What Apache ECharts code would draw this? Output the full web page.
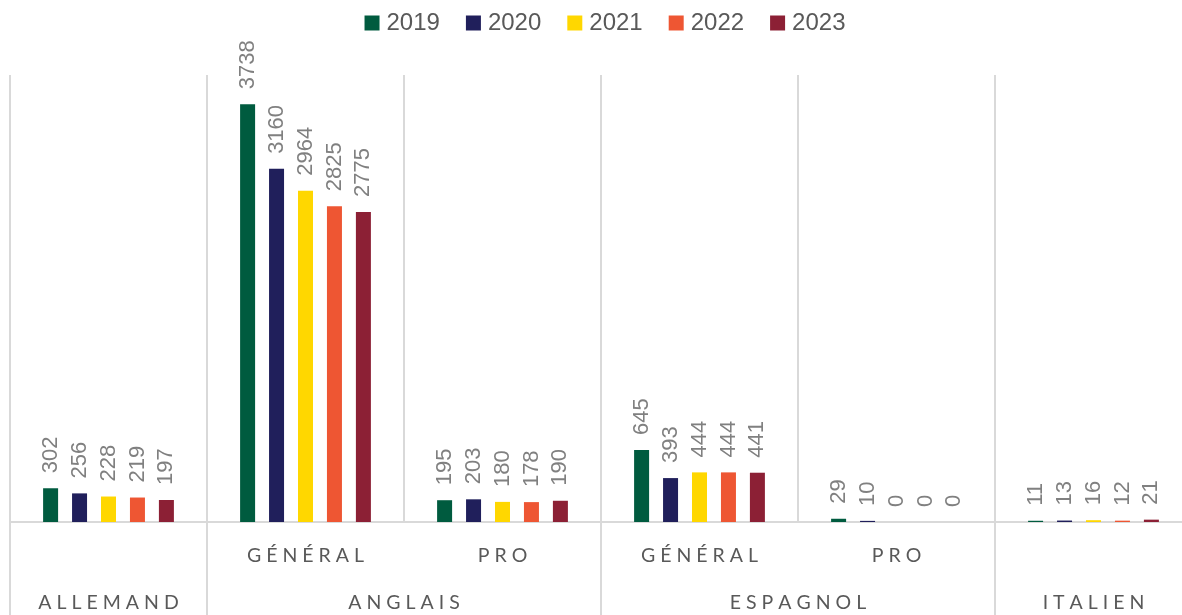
<!DOCTYPE html>
<html>
<head>
<meta charset="utf-8">
<script src="https://cdn.jsdelivr.net/npm/echarts@6/dist/echarts.min.js"></script>
<style>
html,body{margin:0;padding:0;background:#fff;overflow:hidden;}
#chart{width:1210px;height:615px;}
</style>
</head>
<body>
<div id="chart"></div>
<script>
// Data
const subCategories = ['', 'GÉNÉRAL', 'PRO', 'GÉNÉRAL', 'PRO', ''];
const groupLabels = ['', 'ALLEMAND', '', '', 'ANGLAIS', '', '', '', 'ESPAGNOL', '', '', 'ITALIEN', ''];
const groupBoundaries = [0, 2, 6, 10, 12];
const years = ['2019', '2020', '2021', '2022', '2023'];
const v2019 = [302, 3738, 195, 645, 29, 11];
const v2020 = [256, 3160, 203, 393, 10, 13];
const v2021 = [228, 2964, 180, 444, 0, 16];
const v2022 = [219, 2825, 178, 444, 0, 12];
const v2023 = [197, 2775, 190, 441, 0, 21];
const seriesValues = [v2019, v2020, v2021, v2022, v2023];
const colors = ['#005B3F', '#201F5B', '#FFD700', '#EE5633', '#8C2035'];

function spaced(s) { return s.split('').join(' '); }

const chart = echarts.init(document.getElementById('chart'));
const gridColor = '#d9d9d9';
chart.setOption({
  animation: false,
  legend: {
    top: 6,
    left: 'center',
    itemWidth: 15,
    itemHeight: 15,
    itemGap: 26,
    icon: 'rect',
    textStyle: { fontFamily: 'Liberation Sans', fontSize: 24, color: '#595959', padding: [0, 0, 0, 2] },
    data: years
  },
  grid: { left: 10, top: 75, width: 1182, height: 447 },
  xAxis: [
    {
      type: 'category',
      data: subCategories,
      position: 'bottom',
      axisLine: { show: true, lineStyle: { color: gridColor, width: 2 } },
      axisTick: { show: false },
      splitLine: { show: true, lineStyle: { color: gridColor, width: 2 } },
      axisLabel: {
        interval: 0,
        margin: 24,
        formatter: spaced,
        fontFamily: 'Lato',
        fontSize: 19.5,
        color: '#595959'
      }
    },
    {
      type: 'category',
      data: groupLabels,
      boundaryGap: false,
      position: 'bottom',
      axisLine: { show: false },
      axisTick: {
        show: true,
        length: 100,
        interval: function (index) { return groupBoundaries.indexOf(index) >= 0; },
        lineStyle: { color: gridColor, width: 2 }
      },
      splitLine: { show: false },
      axisLabel: {
        interval: 0,
        margin: 71,
        formatter: spaced,
        fontFamily: 'Lato',
        fontSize: 19.5,
        color: '#595959'
      }
    }
  ],
  yAxis: {
    type: 'value',
    min: 0,
    max: 4000,
    show: false,
    splitLine: { show: false }
  },
  series: years.map((y, i) => ({
    name: y,
    type: 'bar',
    xAxisIndex: 0,
    data: seriesValues[i],
    barWidth: 15,
    barGap: '93%',
    itemStyle: { color: colors[i] },
    label: {
      show: true,
      position: 'top',
      rotate: 90,
      align: 'left',
      verticalAlign: 'middle',
      distance: 15,
      fontFamily: 'Liberation Sans',
      fontSize: 22,
      color: '#808080'
    }
  }))
});
</script>
</body>
</html>
